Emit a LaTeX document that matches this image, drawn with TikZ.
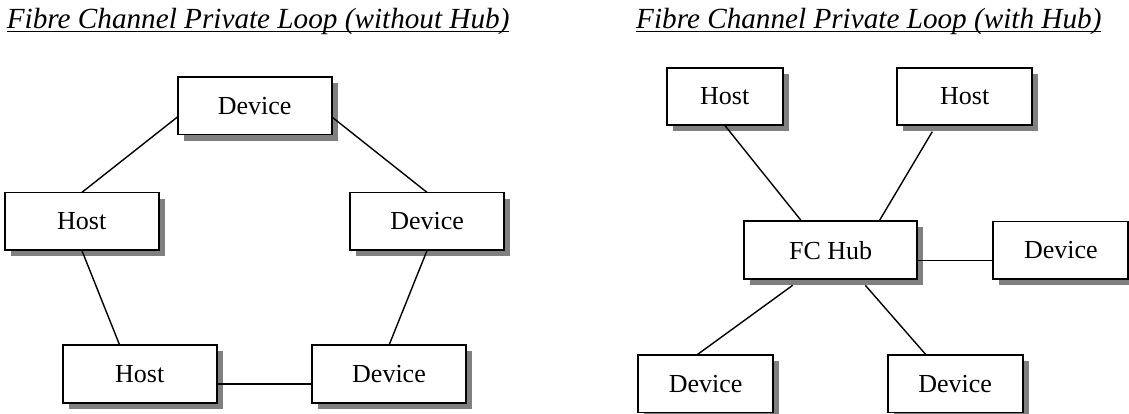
\documentclass[tikz,border=0pt]{standalone}
\usepackage{fontspec}
\setmainfont{Liberation Serif}
\usepackage{tikz}
\usetikzlibrary{shadows}
\newsavebox{\headbox}
\newcommand{\ulhead}[1]{\sbox{\headbox}{#1}\usebox{\headbox}\llap{\rule[-4.1pt]{\wd\headbox}{1.3pt}}}
\tikzset{%
  % Specifications for style of nodes:
            base/.style = {rectangle, draw=black, line width=1.7pt,
                           fill=white, inner sep=0pt, outer sep=0pt,
                           minimum height=57.5pt,
                           drop shadow={shadow xshift=6pt, shadow yshift=-6pt,
                                        fill=black!50, opacity=1},
                           font=\fontsize{26}{30}\selectfont},
         loopbox/.style = {base, minimum width=154pt},
         hostbox/.style = {base, minimum width=116pt},
          devbox/.style = {base, minimum width=135pt},
          hubbox/.style = {base, minimum width=173pt, minimum height=58pt},
         heading/.style = {anchor=base west, inner sep=0pt,
                           font=\fontsize{29.2}{34}\selectfont\itshape},
            link/.style = {line width=1.4pt},
}

\begin{document}
\begin{tikzpicture}[
    x=1pt, y=1pt,
    node distance=100pt]

  \useasboundingbox (0,0) rectangle (1129,414);

  \node(headLoop)   [heading] at (6.7,385.7)   {\ulhead{Fibre Channel Private Loop (without Hub)}};
  \node(headHub)    [heading] at (636,385.7)   {\ulhead{Fibre Channel Private Loop (with Hub)}};

  % Loop without hub
  \node(devTop)     [loopbox] at (254.7,308.2)                                  {Device};
  \node(hostLeft)   [loopbox, below of=devTop, xshift=-173pt, yshift=-15.5pt]   {Host};
  \node(devRight)   [loopbox, below of=devTop, xshift=172.5pt, yshift=-15.5pt]  {Device};
  \node(hostLow)    [loopbox, below of=hostLeft, xshift=58pt, yshift=-52.7pt]   {Host};
  \node(devLow)     [loopbox, right of=hostLow, xshift=149.3pt]                 {Device};

  % Loop with hub
  \node(hub)        [hubbox] at (830.7,163.7)                                   {FC Hub};
  \node(hostA)      [hostbox, above of=hub, xshift=-106pt, yshift=53.8pt]       {Host};
  \node(hostB)      [devbox, right of=hostA, xshift=140pt]                      {Host};
  \node(devSide)    [devbox, right of=hub, xshift=130.1pt]                      {Device};
  \node(devA)       [devbox, below of=hub, xshift=-125pt, yshift=-33.5pt]       {Device};
  \node(devB)       [devbox, right of=devA, xshift=149.5pt]                     {Device};

  % Specification of lines between nodes specified above
  \draw[link]       ([yshift=-11pt]devTop.west) -- (hostLeft.north);
  \draw[link]       ([yshift=-11pt]devTop.east) -- (devRight.north);
  \draw[link]       (hostLeft.south) -- ([xshift=-20pt]hostLow.north);
  \draw[link]       (devRight.south) -- (devLow.north);
  \draw[link]       ([yshift=-10pt]hostLow.east) -- ([yshift=-10pt]devLow.west);

  \draw[link]       (hostA.south) -- ([xshift=-29pt]hub.north);
  \draw[link]       ([xshift=-32.4pt, yshift=-6.4pt]hostB.south) -- ([xshift=48.3pt]hub.north);
  \draw[link]       ([yshift=-10pt]hub.east) -- ([yshift=-10pt]devSide.west);
  \draw[link]       ([xshift=-38pt, yshift=-6pt]hub.south) -- ([xshift=-9pt]devA.north);
  \draw[link]       ([xshift=34.6pt, yshift=-6pt]hub.south) -- ([xshift=-29pt]devB.north);

\end{tikzpicture}
\end{document}
